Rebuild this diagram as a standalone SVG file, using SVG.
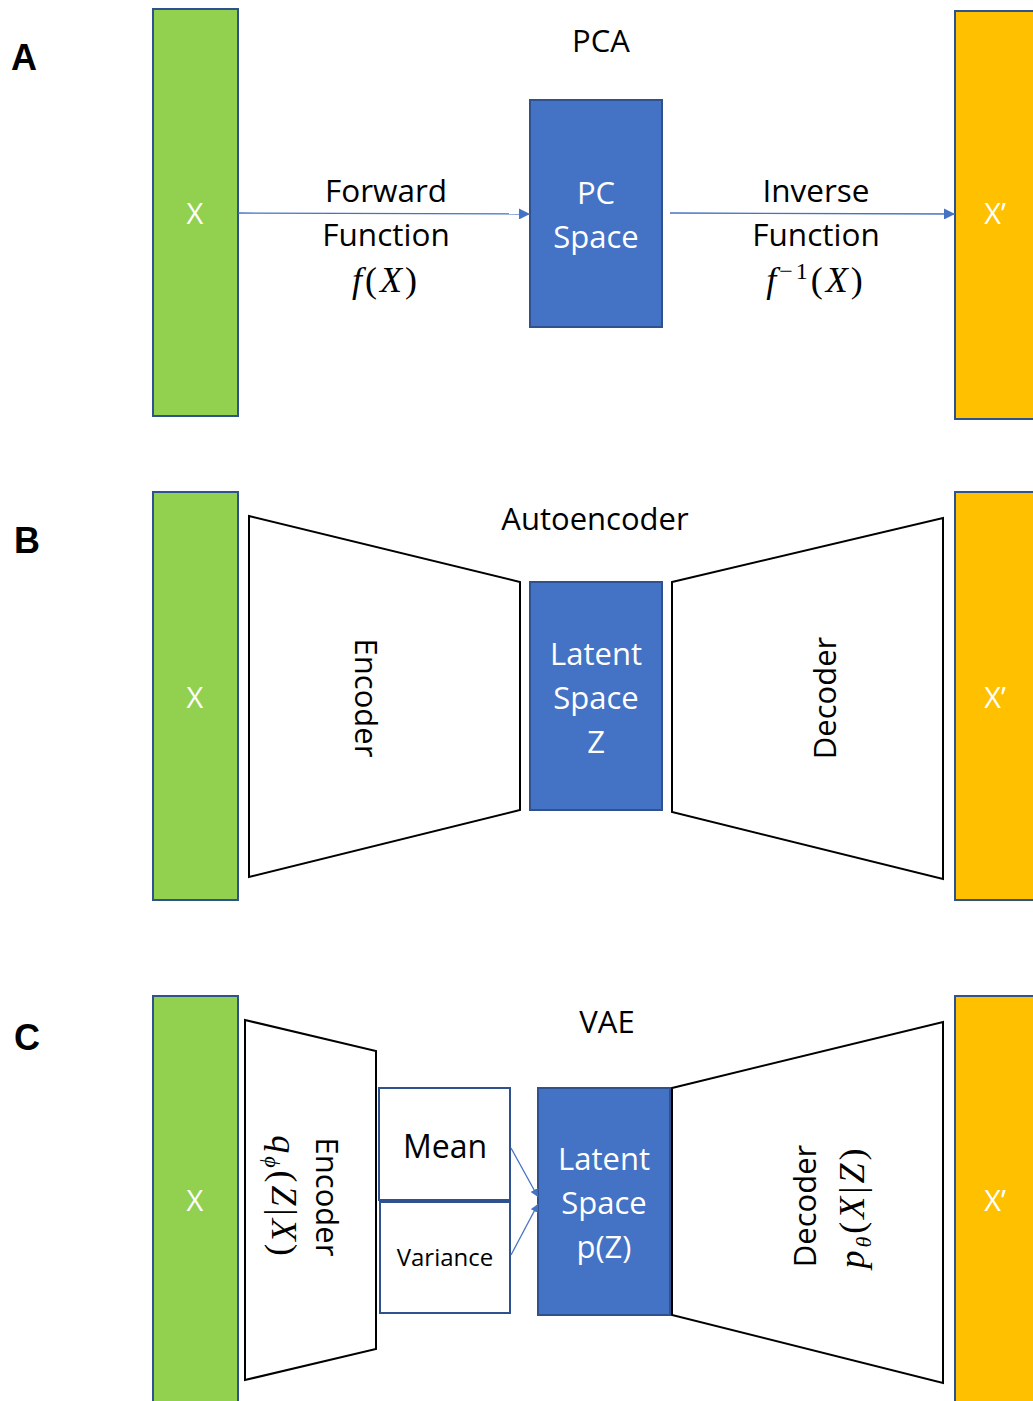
<svg xmlns="http://www.w3.org/2000/svg" width="1033" height="1401" viewBox="0 0 1033 1401">
<defs>
<style>
.in{fill:#92D050;stroke:#2F528F;stroke-width:2}
.out{fill:#FFC000;stroke:#2F528F;stroke-width:2}
.lat{fill:#4472C4;stroke:#2F528F;stroke-width:2}
.trap{fill:#fff;stroke:#000;stroke-width:2}
.box{fill:#fff;stroke:#2F528F;stroke-width:2}
.conn{stroke:#4472C4;stroke-width:1.3;fill:none}
.t{font-family:"Open Sans","Liberation Sans",sans-serif;text-anchor:middle}
.w{fill:#fff}
.k{fill:#000}
.lbl{font-family:"Liberation Sans",Arial,sans-serif;font-weight:bold;font-size:36px}
.m{font-family:"Liberation Serif","Times New Roman",serif;text-anchor:middle;font-size:36px;letter-spacing:3px}
</style>
<marker id="ah" viewBox="0 0 10 10" refX="10" refY="5" markerWidth="11" markerHeight="11" markerUnits="userSpaceOnUse" orient="auto"><path d="M0,0L10,5L0,10z" fill="#4472C4"/></marker>
<marker id="ah2" viewBox="0 0 10 10" refX="10" refY="5" markerWidth="8" markerHeight="8" markerUnits="userSpaceOnUse" orient="auto"><path d="M0,0L10,5L0,10z" fill="#4472C4"/></marker>
</defs>
<rect width="1033" height="1401" fill="#fff"/>

<!-- Panel A -->
<text class="lbl" x="11" y="70">A</text>
<g id="a-x"><rect class="in" x="153" y="9" width="85" height="407"/><text class="t w" x="195" y="224" font-size="29">X</text></g>
<g id="a-pc"><rect class="lat" x="530" y="100" width="132" height="227"/><text class="t w" x="596" y="204" font-size="31">PC</text><text class="t w" x="596" y="248" font-size="31">Space</text></g>
<g id="a-xp"><rect class="out" x="955" y="11" width="90" height="408"/><text class="t w" x="995" y="224" font-size="29">X’</text></g>
<text class="t k" x="601" y="52" font-size="31">PCA</text>
<g id="a-fwd-label"><text class="t k" x="386" y="202" font-size="31.5">Forward</text><text class="t k" x="386" y="246" font-size="31.5">Function</text>
<text class="m" x="386" y="292"><tspan font-style="italic">f</tspan>(<tspan font-style="italic">X</tspan>)</text></g>
<g id="a-inv-label"><text class="t k" x="816" y="202" font-size="31.5">Inverse</text><text class="t k" x="816" y="246" font-size="31.5">Function</text>
<text class="m" x="816" y="292"><tspan font-style="italic">f</tspan><tspan font-size="24" dy="-13">−1</tspan><tspan dy="13">(</tspan><tspan font-style="italic">X</tspan>)</text></g>

<!-- Panel B -->
<text class="lbl" x="14" y="553">B</text>
<g id="b-x"><rect class="in" x="153" y="492" width="85" height="408"/><text class="t w" x="195" y="708" font-size="29">X</text></g>
<g id="b-enc"><polygon class="trap" points="249,516 520,582 520,810 249,877"/><text class="t k" x="366" y="698" font-size="31" transform="rotate(90 366 698)" dy="11">Encoder</text></g>
<g id="b-lat"><rect class="lat" x="530" y="582" width="132" height="228"/><text class="t w" x="596" y="665" font-size="31">Latent</text><text class="t w" x="596" y="709" font-size="31">Space</text><text class="t w" x="596" y="753" font-size="31">Z</text></g>
<g id="b-dec"><polygon class="trap" points="672,582 943,518 943,879 672,812"/><text class="t k" x="825" y="698" font-size="31" transform="rotate(-90 825 698)" dy="11">Decoder</text></g>
<g id="b-xp"><rect class="out" x="955" y="492" width="90" height="408"/><text class="t w" x="995" y="708" font-size="29">X’</text></g>
<text class="t k" x="595" y="530" font-size="31">Autoencoder</text>

<!-- Panel C -->
<text class="lbl" x="14" y="1050">C</text>
<g id="c-x"><rect class="in" x="153" y="996" width="85" height="420"/><text class="t w" x="195" y="1211" font-size="29">X</text></g>
<g id="c-enc"><polygon class="trap" points="245,1020 376,1051 376,1349 245,1380"/>
<text class="t k" x="327" y="1197" font-size="31" transform="rotate(90 327 1197)" dy="11">Encoder</text>
<text class="m" x="283" y="1197" transform="rotate(90 283 1197)" dy="11"><tspan font-style="italic">q</tspan><tspan font-style="italic" font-size="22" dy="7">ϕ</tspan><tspan dy="-7">(</tspan><tspan font-style="italic">Z</tspan>|<tspan font-style="italic">X</tspan>)</text></g>
<g id="c-mean"><rect class="box" x="379" y="1088" width="131" height="112"/><text class="t k" x="445" y="1158" font-size="32">Mean</text></g>
<g id="c-var"><rect class="box" x="380" y="1202" width="130" height="111"/><text class="t k" x="445" y="1266" font-size="24">Variance</text></g>
<g id="c-lat"><rect class="lat" x="538" y="1088" width="132" height="227"/><text class="t w" x="604" y="1170" font-size="31">Latent</text><text class="t w" x="604" y="1214" font-size="31">Space</text><text class="t w" x="604" y="1258" font-size="31">p(Z)</text></g>
<g id="c-dec"><polygon class="trap" points="672,1088 943,1022 943,1383 672,1315"/>
<text class="t k" x="805" y="1206" font-size="31" transform="rotate(-90 805 1206)" dy="11">Decoder</text>
<text class="m" x="853" y="1207" transform="rotate(-90 853 1207)" dy="11"><tspan font-style="italic">p</tspan><tspan font-style="italic" font-size="22" dy="7">θ</tspan><tspan dy="-7">(</tspan><tspan font-style="italic">X</tspan>|<tspan font-style="italic">Z</tspan>)</text></g>
<g id="c-xp"><rect class="out" x="955" y="996" width="90" height="420"/><text class="t w" x="995" y="1211" font-size="29">X’</text></g>
<text class="t k" x="607" y="1033" font-size="31">VAE</text>

<!-- Connectors -->
<g id="connectors">
<line class="conn" x1="238" y1="213" x2="530" y2="214" marker-end="url(#ah)"/>
<line class="conn" x1="670" y1="213" x2="955" y2="214" marker-end="url(#ah)"/>
<line class="conn" x1="511" y1="1148" x2="538" y2="1197" marker-end="url(#ah2)"/>
<line class="conn" x1="511" y1="1255" x2="538" y2="1204" marker-end="url(#ah2)"/>
</g>
</svg>
